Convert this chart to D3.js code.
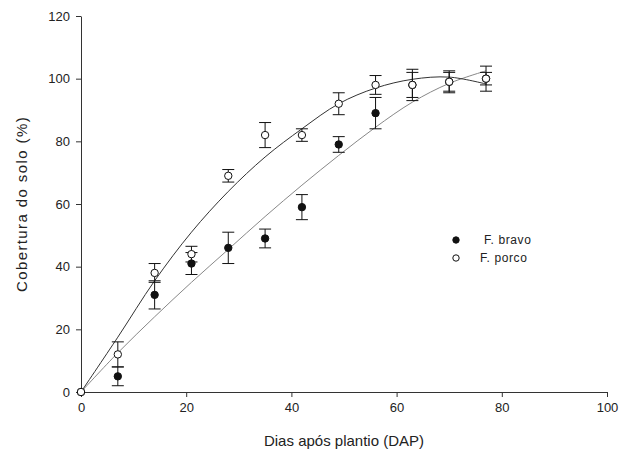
<!DOCTYPE html>
<html>
<head>
<meta charset="utf-8">
<script src="https://cdn.jsdelivr.net/npm/d3@7"></script>
<style>
	body { margin: 0; background: #fff; }
	text { font-family: "Liberation Sans", Arial, sans-serif; fill: #222; }
</style>
</head>
<body>
<div id="chart"></div>
<script>
// sampling days (DAP)
var days = [0, 7, 14, 21, 28, 35, 42, 49, 56, 63, 70, 77];

// F. bravo: mean soil cover and error
var bravoMean = [0, 5, 31, 41, 46, 49, 59, 79, 89, 98, 99, 100];
var bravoErr = [0, 3, 4.5, 3.5, 5, 3, 4, 2.5, 5, 4, 3, 2];

// F. porco: mean soil cover and error
var porcoMean = [0, 12, 38, 44, 69, 82, 82, 92, 98, 98, 99, 100];
var porcoErr = [0, 4, 3, 2.5, 2, 4, 2, 3.5, 3, 5, 3.5, 4];

// fitted curves
var bravoFit = [0, 12.5, 24, 35, 45.5, 56, 66, 75.5, 84.5, 92.5, 98.5, 102.5];
var porcoFit = [0, 17.5, 35.5, 51, 64, 75, 84, 92, 97, 99.8, 100.5, 98.3];

// axis ticks
var xTicks = [0, 20, 40, 60, 80, 100];
var yTicks = [0, 20, 40, 60, 80, 100, 120];

var legendItems = ["F. bravo", "F. porco"];

var width = 634, height = 458;

var svg = d3.select("#chart").append("svg")
	.attr("width", width)
	.attr("height", height);

var x = d3.scaleLinear().domain([0, 100]).range([81, 607]);
var y = d3.scaleLinear().domain([0, 120]).range([392, 16]);

// axes
var xAxis = svg.append("g")
	.attr("transform", "translate(0," + y(0) + ")")
	.call(d3.axisBottom(x).tickValues(xTicks).tickSize(5).tickSizeOuter(0).tickPadding(6));

var yAxis = svg.append("g")
	.attr("transform", "translate(" + x(0) + ",0)")
	.call(d3.axisLeft(y).tickValues(yTicks).tickSize(5).tickSizeOuter(0).tickPadding(6));

[xAxis, yAxis].forEach(function(a) {
	a.selectAll("path, line").attr("stroke", "#333");
	a.selectAll("text").attr("font-size", "13px").attr("fill", "#222")
		.style("font-family", "'Liberation Sans', Arial, sans-serif");
});

// axis titles
svg.append("text")
	.attr("x", (x(0) + x(100)) / 2)
	.attr("y", 446)
	.attr("text-anchor", "middle")
	.attr("font-size", "15px")
	.text("Dias após plantio (DAP)");

svg.append("text")
	.attr("transform", "translate(27," + (y(60)) + ") rotate(-90)")
	.attr("text-anchor", "middle")
	.attr("font-size", "15px")
	.attr("letter-spacing", "1.4px")
	.text("Cobertura do solo (%)");

// fitted curves
var line = d3.line()
	.x(function(d) { return x(d[0]); })
	.y(function(d) { return y(d[1]); })
	.curve(d3.curveCatmullRom.alpha(0.5));

svg.append("path")
	.datum(days.map(function(d, i) { return [d, bravoFit[i]]; }))
	.attr("d", line)
	.attr("fill", "none")
	.attr("stroke", "#888")
	.attr("stroke-width", 1);

svg.append("path")
	.datum(days.map(function(d, i) { return [d, porcoFit[i]]; }))
	.attr("d", line)
	.attr("fill", "none")
	.attr("stroke", "#333")
	.attr("stroke-width", 1);

// error bars + points for one series
function drawSeries(means, errs, fill) {
	var data = days.map(function(d, i) { return { day: d, v: means[i], e: errs[i] }; });
	var withErr = data.filter(function(d) { return d.e > 0; });
	var g = svg.append("g");

	g.selectAll(".bar").data(withErr).enter().append("line")
		.attr("x1", function(d) { return x(d.day); })
		.attr("x2", function(d) { return x(d.day); })
		.attr("y1", function(d) { return y(d.v - d.e); })
		.attr("y2", function(d) { return y(d.v + d.e); })
		.attr("stroke", "#111");

	[1, -1].forEach(function(s) {
		g.selectAll(".cap" + s).data(withErr).enter().append("line")
			.attr("x1", function(d) { return x(d.day) - 6; })
			.attr("x2", function(d) { return x(d.day) + 6; })
			.attr("y1", function(d) { return y(d.v + s * d.e); })
			.attr("y2", function(d) { return y(d.v + s * d.e); })
			.attr("stroke", "#111");
	});

	g.selectAll("circle").data(data).enter().append("circle")
		.attr("cx", function(d) { return x(d.day); })
		.attr("cy", function(d) { return y(d.v); })
		.attr("r", 3.7)
		.attr("fill", fill)
		.attr("stroke", "#111")
		.attr("stroke-width", 1);
}

drawSeries(bravoMean, bravoErr, "#111");
drawSeries(porcoMean, porcoErr, "#fff");

// legend
var legend = svg.append("g");
var legendY = [240, 258];
var legendTextX = [484, 480];

legend.selectAll("circle").data(legendItems).enter().append("circle")
	.attr("cx", 456)
	.attr("cy", function(d, i) { return legendY[i]; })
	.attr("r", 3.2)
	.attr("fill", function(d, i) { return i === 0 ? "#111" : "#fff"; })
	.attr("stroke", "#111");

legend.selectAll("text").data(legendItems).enter().append("text")
	.attr("x", function(d, i) { return legendTextX[i]; })
	.attr("y", function(d, i) { return legendY[i] + 4; })
	.attr("font-size", "12px")
	.attr("letter-spacing", "0.6px")
	.text(function(d) { return d; });
</script>
</body>
</html>
